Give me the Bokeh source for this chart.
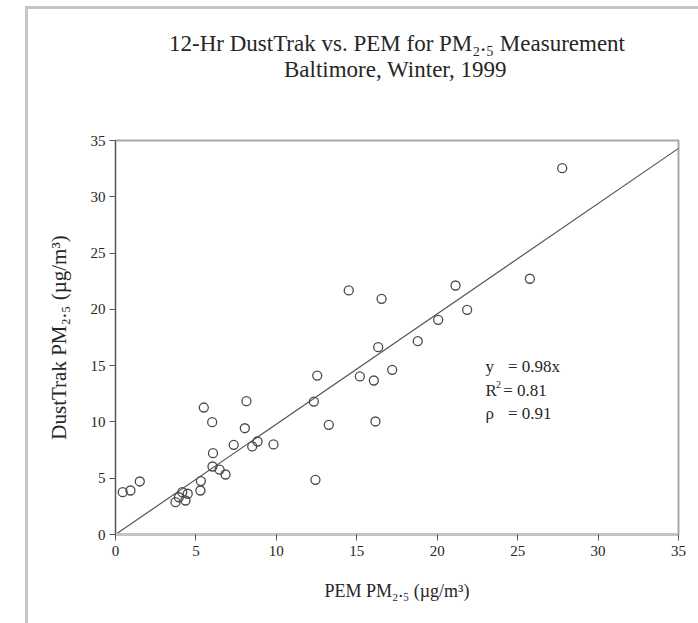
from bokeh.plotting import figure
from bokeh.models import Range1d, FixedTicker, Label
from bokeh.embed import file_html
from bokeh.resources import INLINE

# ---------------- data ----------------
pem_pm25 = [0.45, 0.93, 1.51, 3.73, 3.94, 4.35, 4.49, 4.15, 5.28, 5.31,
            5.49, 6.01, 6.06, 6.03, 6.47, 6.84, 7.35, 8.04, 8.14, 8.50,
            8.83, 9.82, 12.33, 12.43, 12.54, 13.26, 14.50, 15.19, 16.06, 16.16,
            16.33, 16.54, 17.20, 18.79, 20.06, 21.14, 21.86, 25.76, 27.77]
dusttrak_pm25 = [3.76, 3.91, 4.71, 2.87, 3.31, 3.02, 3.62, 3.76, 3.91, 4.75,
                 11.28, 9.98, 7.22, 6.04, 5.77, 5.33, 7.97, 9.44, 11.84, 7.82,
                 8.26, 8.00, 11.81, 4.86, 14.12, 9.74, 21.68, 14.04, 13.68, 10.04,
                 16.64, 20.94, 14.63, 17.17, 19.07, 22.12, 19.96, 22.72, 32.54]
fit_slope = 0.98
axis_ticks = [0, 5, 10, 15, 20, 25, 30, 35]
axis_min, axis_max = 0, 35
title_line1 = "12-Hr DustTrak vs. PEM for PM₂.₅ Measurement"
title_line2 = "Baltimore, Winter, 1999"
x_label = "PEM PM₂.₅ (µg/m³)"
y_label = "DustTrak PM₂.₅ (µg/m³)"
stat_lines = [("y", "= 0.98x"), ("R", "= 0.81"), ("ρ", "= 0.91")]

FONT = "Liberation Serif"
TXT = "#262626"

W, H = 698, 623
FL, FR, FT, FB = 115, 678, 140, 534   # frame edges in figure px

p = figure(width=W, height=H, output_backend="svg", toolbar_location=None,
           x_range=Range1d(axis_min, axis_max), y_range=Range1d(axis_min, axis_max),
           min_border_left=FL, min_border_right=W - FR,
           min_border_top=FT, min_border_bottom=H - FB,
           background_fill_color="white", border_fill_color="white")
p.stylesheets = [":host::after {content: ''; position: absolute; left: 25px; top: 6px;"
                 " right: 0px; bottom: 0px; border-left: 3px solid #c6c6c6;"
                 " border-top: 3px solid #c6c6c6; pointer-events: none;}"]
p.grid.visible = False
p.outline_line_color = "#a8a8a8"
p.outline_line_width = 2

# two-line title (second line indented with em spaces to sit centred)
p.title.text = title_line1 + "\n" + "\u2003" * 5 + title_line2 + "\n"
p.title.text_font = FONT
p.title.text_font_size = "23px"
p.title.text_font_style = "normal"
p.title.text_color = TXT
p.title.align = "center"
p.title.vertical_align = "top"
p.title.text_line_height = 1.06
p.title.standoff = 60

for ax in (p.xaxis, p.yaxis):
    ax.ticker = FixedTicker(ticks=axis_ticks)
    ax.minor_tick_line_color = None
    ax.major_tick_in = 0
    ax.major_tick_out = 6
    ax.major_tick_line_color = "#555555"
    ax.major_label_text_font = FONT
    ax.major_label_text_font_size = "15px"
    ax.major_label_text_color = TXT
    ax.axis_label_text_font = FONT
    ax.axis_label_text_font_style = "normal"
    ax.axis_label_text_color = TXT
p.xaxis.axis_line_color = "#c4c4c4"
p.xaxis.axis_line_width = 3
p.xaxis.major_label_standoff = 5
p.xaxis.axis_label = x_label
p.xaxis.axis_label_text_font_size = "18px"
p.xaxis.axis_label_standoff = 22
p.yaxis.axis_line_color = "#555555"
p.yaxis.axis_line_width = 1
p.yaxis.major_label_standoff = 4
p.yaxis.axis_label = y_label
p.yaxis.axis_label_text_font_size = "21px"
p.yaxis.axis_label_standoff = 17

# fit line y = slope * x across the axis range
fx = [axis_min, axis_max]
fy = [fit_slope * v for v in fx]
p.line(fx, fy, line_color="#555555", line_width=1.2)

p.scatter(pem_pm25, dusttrak_pm25, marker="circle", size=9,
          fill_color=None, line_color="#4a4a4a", line_width=1.3)

# statistics block (data coords)
sx0, sx1 = 23.0, 24.4
for (a, b), yv in zip(stat_lines, [14.9, 12.8, 10.75]):
    p.add_layout(Label(x=sx0, y=yv, text=a, text_font=FONT, text_font_size="17px",
                       text_color=TXT, text_baseline="middle"))
    xb = 24.1 if a == "R" else sx1
    p.add_layout(Label(x=xb, y=yv, text=b, text_font=FONT, text_font_size="17px",
                       text_color=TXT, text_baseline="middle"))
p.add_layout(Label(x=23.65, y=13.35, text="2", text_font=FONT, text_font_size="10px",
                   text_color=TXT, text_baseline="middle"))

open("out.html", "w").write(file_html(p, INLINE))
